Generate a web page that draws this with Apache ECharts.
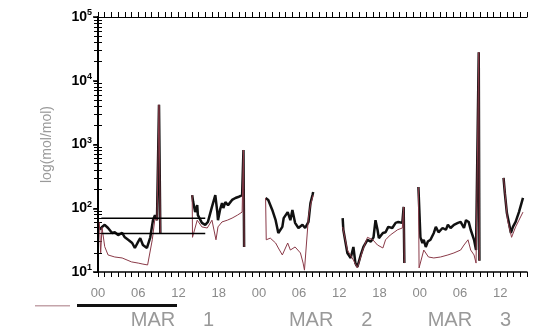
<!DOCTYPE html>
<html>
<head>
<meta charset="utf-8">
<script src="https://cdn.jsdelivr.net/npm/echarts@6/dist/echarts.min.js"></script>
<style>
  html, body { margin: 0; padding: 0; background: #fff; }
  #chart { width: 533px; height: 332px; }
</style>
</head>
<body>
<div id="chart"></div>
<script>
// hours since MAR 1 00:00, null = gap in record
let blackHours = [0.3, 0.6, 1.0, 1.5, 2.1, 2.5, 3.0, 3.6, 4.0, 4.5, 5.1, 5.5, 6.0, 6.3, 6.7, 7.3, 7.8, 8.2, 8.5, 8.8, 9.1, 9.3, 11,
    14.05, 14.2, 14.5, 14.8, 14.9, 15.5, 16.0, 16.4, 17.0, 17.5, 17.8, 17.9, 18.2, 18.5, 18.7, 19.0, 19.4, 20.0, 20.5, 20.9, 21.5, 21.7, 21.8, 23,
    25.0, 25.4, 26.0, 26.5, 26.9, 27.5, 27.7, 28.3, 28.7, 29.0, 29.4, 29.9, 30.5, 30.9, 31.4, 31.7, 32.0, 32.1, 34,
    36.5, 36.6, 37.2, 37.7, 38.1, 38.4, 38.7, 39.2, 39.6, 40.2, 40.7, 41.1, 41.4, 41.7, 41.9, 42.5, 42.9, 43.3, 43.9, 44.4, 44.8, 45.4, 45.6, 45.7, 47,
    47.8, 48.1, 48.4, 48.6, 48.9, 49.2, 49.6, 50.1, 50.4, 50.8, 51.4, 51.9, 52.2, 52.6, 53.1, 53.7, 54.1, 54.6, 54.9, 55.3, 55.6, 56.1, 56.4, 56.8, 56.9, 58,
    60.5, 60.7, 61.0, 61.3, 61.6, 61.9, 62.3, 62.8, 63.4];
let blackVals = [46, 51, 55, 49, 41, 42, 38, 41, 35, 32, 28.5, 23.8, 30, 34, 26.5, 23.8, 35, 65, 78, 65, 4200, 41, null,
    161, 125, 87, 112, 78, 59, 55, 61, 105, 161, 87, 65, 94, 121, 101, 125, 112, 135, 145, 150, 161, 820, 24.7, null,
    145, 135, 94, 65, 41, 51, 70, 87, 65, 94, 59, 49, 55, 49, 61, 121, 161, 180, null,
    70, 46, 19.9, 16.6, 24.7, 13.8, 12.0, 18.5, 24.7, 32, 30, 35, 65, 46, 34, 41, 42, 51, 49, 59, 61, 59, 105, 13.8, null,
    215, 35, 28.5, 32, 24.7, 30, 32, 41, 51, 42, 49, 46, 55, 49, 55, 59, 61, 49, 65, 61, 46, 32, 22.1, 28000, 15, null,
    299, 171, 84, 59, 41, 51, 61, 87, 145];

let redHours = [0.2, 0.4, 0.6, 1.0, 1.5, 2.5, 3.6, 5.0, 6.0, 6.7, 7.4, 8.1, 8.5, 8.8, 9.1, 9.3, 11,
    14.05, 14.1, 14.8, 15.5, 16.3, 17.0, 17.6, 17.9, 18.5, 19.3, 20.0, 20.8, 21.5, 21.7, 21.8, 23,
    25.0, 25.1, 25.7, 26.5, 26.9, 27.5, 28.3, 28.7, 29.4, 30.2, 30.6, 30.8, 31.4, 31.7, 32.1, 34,
    36.5, 37.2, 38.1, 38.7, 39.5, 40.2, 41.0, 41.7, 42.5, 42.9, 43.6, 44.7, 45.4, 45.6, 45.7, 47,
    47.8, 47.9, 48.6, 49.3, 50.1, 51.1, 52.2, 53.1, 54.1, 54.6, 55.2, 55.6, 56.1, 56.4, 56.8, 56.9, 58,
    60.5, 61.1, 61.7, 62.3, 62.8, 63.4];
let redVals = [60, 20, 50, 25, 18.5, 17.2, 16.6, 14.4, 13.8, 13.3, 12.9, 32, 70, 65, 4200, 41, null,
    161, 35, 65, 51, 49, 65, 32, 51, 61, 65, 70, 78, 87, 820, 24.7, null,
    145, 32, 34, 28.5, 23.8, 18.5, 28.5, 22.1, 24.7, 19.9, 13.8, 10.7, 73, 112, 161, null,
    51, 22.1, 15.4, 11.6, 22.1, 35, 32, 26.5, 23.8, 32, 38, 46, 49, 105, 13.8, null,
    215, 11.6, 22.1, 17.2, 16.6, 17.2, 18.5, 19.9, 22.1, 26.5, 32, 22.1, 18.5, 13.8, 28000, 15, null,
    299, 65, 35, 51, 65, 87];

// two reference levels drawn over the first morning
let refHours = [0.5, 16];
let refUpper = 70;
let refLower = 40;

let hourLabels = [0, 6, 12, 18, 24, 30, 36, 42, 48, 54, 60];
let dayCenters = [11.1, 34.7, 55.4];
let dayNames = ['MAR     1', 'MAR     2', 'MAR     3'];
let decades = [10, 100, 1000, 10000, 100000];

let hourTicks = [];
for (let h = 0; h <= 64; h++) hourTicks.push(h);
let minorTicks = [];
for (let d = 1; d < 5; d++) {
    for (let k = 2; k <= 9; k++) minorTicks.push(k * Math.pow(10, d));
}

function pairs(xs, ys) {
    return xs.map((x, i) => [x, ys[i]]);
}

let myChart = echarts.init(document.getElementById('chart'));

let axisBlack = { color: '#000', width: 1.5 };

let option = {
    animation: false,
    backgroundColor: '#fff',
    grid: { left: 98, right: 6, top: 17, bottom: 60 },
    legend: [
        {
            data: [{ name: 'thin', itemStyle: { color: '#c4a4aa' } }],
            icon: 'rect', itemWidth: 35, itemHeight: 1.5, padding: 0,
            left: 35, top: 305, formatter: () => '', selectedMode: false
        },
        {
            data: [{ name: 'thick', itemStyle: { color: '#111' } }],
            icon: 'rect', itemWidth: 100, itemHeight: 3, padding: 0,
            left: 77, top: 304, formatter: () => '', selectedMode: false
        }
    ],
    xAxis: [
        {
            type: 'value', position: 'bottom', min: 0, max: 64,
            axisLine: { onZero: false, lineStyle: axisBlack },
            axisTick: { customValues: hourTicks, length: 5, lineStyle: { color: '#000', width: 1 } },
            axisLabel: {
                customValues: hourLabels, margin: 15, color: '#8a8a8a', fontSize: 13,
                fontFamily: 'Liberation Sans',
                formatter: v => String(v % 24).padStart(2, '0')
            },
            splitLine: { show: false }
        },
        {
            type: 'value', position: 'top', min: 0, max: 64,
            axisLine: { onZero: false, lineStyle: { color: '#000', width: 1.2 } },
            axisTick: { customValues: hourTicks, length: 5, lineStyle: { color: '#000', width: 1 } },
            axisLabel: { show: false },
            splitLine: { show: false }
        },
        {
            type: 'value', position: 'bottom', min: 0, max: 64,
            axisLine: { show: false },
            axisTick: { show: false },
            axisLabel: {
                customValues: dayCenters, margin: 38, color: '#999', fontSize: 20,
                fontFamily: 'Liberation Sans',
                formatter: v => dayNames[dayCenters.indexOf(v)] || ''
            },
            splitLine: { show: false }
        }
    ],
    yAxis: [
        {
            type: 'log', logBase: 10, min: 10, max: 100000, position: 'left',
            name: 'log(mol/mol)', nameLocation: 'middle', nameGap: 44, nameRotate: 90,
            nameTextStyle: { color: '#9a9a9a', fontSize: 14, fontFamily: 'Liberation Sans' },
            axisLine: { lineStyle: { color: '#000', width: 2 } },
            axisTick: { customValues: decades, length: 5, lineStyle: { color: '#000', width: 1.5 } },
            axisLabel: {
                customValues: decades, margin: 6,
                formatter: v => '{b|10}{s|' + Math.round(Math.log10(v)) + '}',
                rich: {
                    b: { fontSize: 14, fontWeight: 'bold', color: '#000', fontFamily: 'Liberation Sans' },
                    s: { fontSize: 9, fontWeight: 'bold', color: '#000', fontFamily: 'Liberation Sans', padding: [0, 0, 8, 0] }
                }
            },
            splitLine: { show: false }
        },
        {
            type: 'log', logBase: 10, min: 10, max: 100000, position: 'left',
            axisLine: { show: false },
            axisTick: { customValues: minorTicks, inside: true, length: 4, lineStyle: { color: '#000', width: 1 } },
            axisLabel: { show: false },
            splitLine: { show: false }
        },
        {
            type: 'log', logBase: 10, min: 10, max: 100000, position: 'right',
            axisLine: { lineStyle: { color: '#000', width: 2 } },
            axisTick: { customValues: decades.concat(minorTicks), inside: true, length: 4, lineStyle: { color: '#000', width: 1 } },
            axisLabel: { show: false },
            splitLine: { show: false }
        }
    ],
    series: [
        {
            name: 'thick', type: 'line', xAxisIndex: 0, yAxisIndex: 0,
            data: pairs(blackHours, blackVals), showSymbol: false, connectNulls: false,
            lineStyle: { color: '#111', width: 2.5 }, itemStyle: { color: '#111' }, z: 2
        },
        {
            name: 'thin', type: 'line', xAxisIndex: 0, yAxisIndex: 0,
            data: pairs(redHours, redVals), showSymbol: false, connectNulls: false,
            lineStyle: { color: '#8a3a48', width: 1 }, itemStyle: { color: '#8a3a48' }, z: 3
        },
        {
            name: 'ref upper', type: 'line', xAxisIndex: 0, yAxisIndex: 0,
            data: pairs(refHours, [refUpper, refUpper]), showSymbol: false,
            lineStyle: { color: '#000', width: 1.5 }, z: 4
        },
        {
            name: 'ref lower', type: 'line', xAxisIndex: 0, yAxisIndex: 0,
            data: pairs(refHours, [refLower, refLower]), showSymbol: false,
            lineStyle: { color: '#000', width: 1.5 }, z: 4
        }
    ]
};

myChart.setOption(option);
</script>
</body>
</html>
